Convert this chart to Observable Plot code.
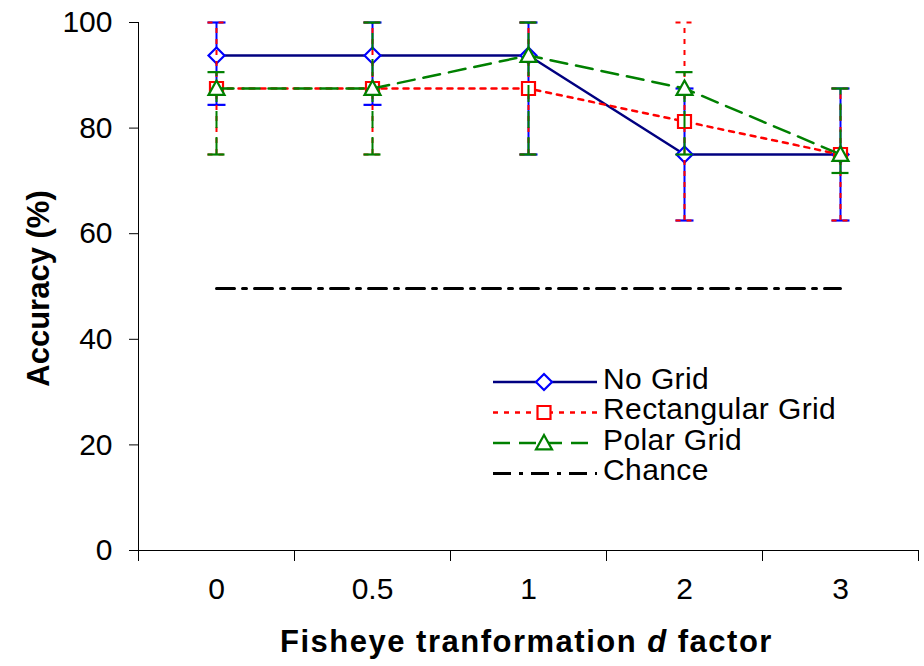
<!DOCTYPE html>
<html><head><meta charset="utf-8">
<script src="https://cdn.jsdelivr.net/npm/d3@7"></script>
<script src="https://cdn.jsdelivr.net/npm/@observablehq/plot@0.6"></script>
<style>
body{margin:0;background:#fff;}
#wrap{position:relative;width:924px;height:666px;font-family:"Liberation Sans",Arial,sans-serif;}
#legend{position:absolute;left:0;top:0;}
</style></head><body><div id="wrap"></div>
<script>
// ---- data ----
const categories = ["0", "0.5", "1", "2", "3"];
const noGrid     = [93.75, 93.75, 93.75, 75, 75];
const noGridLow  = [84.4, 84.4, 75, 62.5, 62.5];
const noGridHigh = [100, 100, 100, 87.5, 87.5];
const rectGrid     = [87.5, 87.5, 87.5, 81.25, 75];
const rectGridLow  = [75, 75, 75, 62.5, 62.5];
const rectGridHigh = [100, 100, 100, 100, 87.5];
const polarGrid     = [87.5, 87.5, 93.75, 87.5, 75];
const polarGridLow  = [75, 75, 75, 75, 71.5];
const polarGridHigh = [90.6, 100, 100, 90.6, 87.5];
const chanceLevel = 49.6;
const chanceFrom = "0", chanceTo = "3";
const yTicks = [0, 20, 40, 60, 80, 100];
const seriesNames = ["No Grid", "Rectangular Grid", "Polar Grid", "Chance"];

// ---- symbols ----
function sym(fn){ return {draw(c, size){ const r = Math.sqrt(size/Math.PI); fn(c, r); }}; }
const diamond = sym((c,r)=>{c.moveTo(0,-r);c.lineTo(r,0);c.lineTo(0,r);c.lineTo(-r,0);c.closePath();});
const square = sym((c,r)=>{c.moveTo(-r,-r);c.lineTo(r,-r);c.lineTo(r,r);c.lineTo(-r,r);c.closePath();});
const triangle = sym((c,r)=>{c.moveTo(0,-r);c.lineTo(r,r*0.8);c.lineTo(-r,r*0.8);c.closePath();});
const cap = sym((c,r)=>{c.moveTo(-r,0);c.lineTo(r,0);});

const rows = (v, lo, hi) => categories.map((c, i) => ({i, v: v[i], lo: lo[i], hi: hi[i]}));
const series = [
  {data: rows(noGrid, noGridLow, noGridHigh), bar: "#0000FF", line: "#000080", mark: "#0000FF", dash: null, barDash: null, symbol: diamond, r: 8},
  {data: rows(rectGrid, rectGridLow, rectGridHigh), bar: "#FF0000", line: "#FF0000", mark: "#FF0000", dash: "5,6", barDash: "5,6", symbol: square, r: 6.5},
  {data: rows(polarGrid, polarGridLow, polarGridHigh), bar: "#008000", line: "#008000", mark: "#008000", dash: "17,9", barDash: "17,9", symbol: triangle, r: 8}
];
const chanceDash = "18,8,4,8";
const idx = c => categories.indexOf(c);
const xDomain = [-0.5, categories.length - 0.5];

const marks = [];
for (const s of series) {
  marks.push(
    Plot.ruleX(s.data, {x: "i", y1: "lo", y2: "hi", stroke: s.bar, strokeWidth: 2, strokeDasharray: s.barDash}),
    Plot.dot(s.data, {x: "i", y: "lo", symbol: cap, r: 9, stroke: s.bar, strokeWidth: 2.2, fill: "none", strokeDasharray: s.barDash}),
    Plot.dot(s.data, {x: "i", y: "hi", symbol: cap, r: 9, stroke: s.bar, strokeWidth: 2.2, fill: "none", strokeDasharray: s.barDash}),
    Plot.line(s.data, {x: "i", y: "v", stroke: s.line, strokeWidth: 2.5, strokeDasharray: s.dash}),
    Plot.dot(s.data, {x: "i", y: "v", symbol: s.symbol, r: s.r, stroke: s.mark, strokeWidth: 2.2, fill: "white"})
  );
}
marks.push(
  Plot.line([{x: idx(chanceFrom), y: chanceLevel}, {x: idx(chanceTo), y: chanceLevel}], {x: "x", y: "y", stroke: "black", strokeWidth: 3, strokeDasharray: chanceDash, insetRight: 0}),
  Plot.ruleX([xDomain[0]], {stroke: "black", strokeWidth: 1}),
  Plot.ruleY([yTicks[0]], {stroke: "black", strokeWidth: 1}),
  Plot.axisY({ticks: yTicks, tickSize: 9, tickPadding: 17, fontSize: 30, label: null, tickFormat: d => String(d)}),
  Plot.axisX({ticks: d3.range(xDomain[0], xDomain[1] + 0.01, 1), tickSize: 11, tickFormat: () => "", label: null}),
  Plot.axisX({ticks: d3.range(categories.length), tickSize: 0, tickPadding: 27, fontSize: 30, tickFormat: i => categories[i], label: null}),
  Plot.text(["Accuracy (%)"], {frameAnchor: "left", textAnchor: "middle", lineAnchor: "middle", rotate: -90, dx: -99, dy: 2, fontSize: 31, fontWeight: "bold", fill: "black"}),
  Plot.text(["Fisheye tranformation d factor"], {frameAnchor: "bottom", textAnchor: "middle", lineAnchor: "middle", dy: 92, dx: -2, fontSize: 31, fontWeight: "bold", fill: "black"})
);

const chart = Plot.plot({
  width: 924, height: 666,
  marginLeft: 138, marginRight: 6, marginTop: 22, marginBottom: 116,
  style: {fontFamily: "'Liberation Sans', Arial, sans-serif", color: "black", background: "white", overflow: "visible"},
  x: {type: "linear", domain: xDomain},
  y: {domain: [0, 100]},
  marks
});
document.getElementById("wrap").appendChild(chart);

// italic "d" in the x label, slightly spaced like the original
d3.select(chart).selectAll("text").filter(function(){ return this.textContent === "Fisheye tranformation d factor"; })
  .each(function(){
    const t = d3.select(this).attr("letter-spacing", 1.5); t.text(null);
    t.append("tspan").text("Fisheye tranformation ");
    t.append("tspan").attr("font-style", "italic").text("d");
    t.append("tspan").text(" factor");
  });

// ---- legend (overlay) ----
const legItems = [
  {name: seriesNames[0], line: series[0].line, mark: series[0].mark, dash: null, symbol: "diamond"},
  {name: seriesNames[1], line: series[1].line, mark: series[1].mark, dash: series[1].dash, symbol: "square"},
  {name: seriesNames[2], line: series[2].line, mark: series[2].mark, dash: series[2].dash, symbol: "triangle"},
  {name: seriesNames[3], line: "black", mark: null, dash: chanceDash, symbol: null}
];
const leg = d3.select("#wrap").append("svg").attr("id", "legend").attr("width", 924).attr("height", 666).style("pointer-events", "none");
legItems.forEach((it, k) => {
  const y = 382 + k * 30.5;
  const g = leg.append("g");
  g.append("line").attr("x1", 493).attr("x2", 597).attr("y1", y).attr("y2", y)
    .attr("stroke", it.line).attr("stroke-width", it.symbol ? 2.5 : 3).attr("stroke-dasharray", it.dash);
  const cx = 544, r = it.symbol === "square" ? 6.5 : 8;
  if (it.symbol === "diamond") g.append("path").attr("d", `M${cx},${y-r}L${cx+r},${y}L${cx},${y+r}L${cx-r},${y}Z`);
  if (it.symbol === "square") g.append("path").attr("d", `M${cx-r},${y-r}H${cx+r}V${y+r}H${cx-r}Z`);
  if (it.symbol === "triangle") g.append("path").attr("d", `M${cx},${y-r}L${cx+r},${y+r*0.8}L${cx-r},${y+r*0.8}Z`);
  g.selectAll("path").attr("fill", "white").attr("stroke", it.mark).attr("stroke-width", 2.2);
  g.append("text").attr("x", 603).attr("y", y - 4).attr("dy", "0.35em").attr("font-size", 30).attr("letter-spacing", 0.4)
    .attr("font-family", "'Liberation Sans', Arial, sans-serif").attr("fill", "black").text(it.name);
});
</script></body></html>
